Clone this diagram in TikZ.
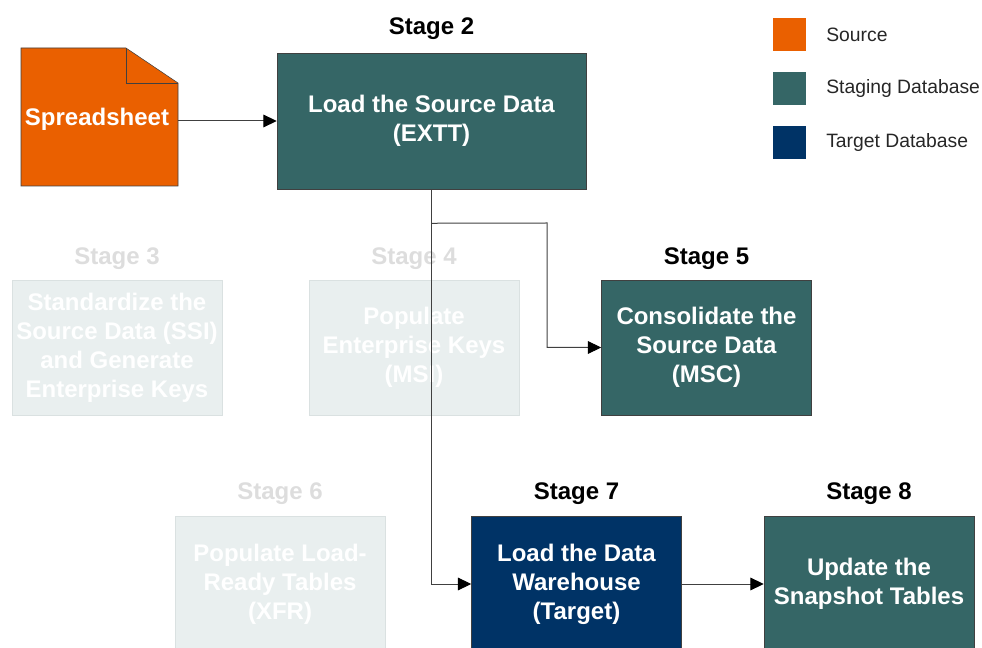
\documentclass[tikz,border=0pt]{standalone}
\usepackage{fontspec}
\setmainfont{Liberation Sans}
\usetikzlibrary{calc,arrows.meta}

\definecolor{srcorange}{HTML}{EA6000}
\definecolor{stageteal}{HTML}{356666}
\definecolor{targetnavy}{HTML}{003366}
\definecolor{fadefill}{HTML}{E9EFEF}
\definecolor{fadeline}{HTML}{DAE1E1}
\definecolor{fadetext}{HTML}{DDDDDD}

\tikzset{
  stagebox/.style={draw=black!75,rectangle,minimum width=157.5pt,minimum height=101.25pt,
    inner sep=1pt,align=center,text=white,font=\bfseries\fontsize{18}{21.75}\selectfont},
  stagelabel/.style={font=\bfseries\fontsize{18}{20}\selectfont},
  faded/.style={stagebox,fill=fadefill,draw=fadeline},
  fadedlabel/.style={stagelabel,text=fadetext},
  flow/.style={draw=black!75,line width=0.75pt,-{Triangle[length=10pt,width=9.5pt,color=black,fill=black]}},
  keybox/.style={rectangle,minimum size=24.75pt,inner sep=0pt},
  keytext/.style={anchor=west,inner sep=0pt,font=\fontsize{14.5}{16}\selectfont,text=black!85}
}

\begin{document}
\begin{tikzpicture}[x=0.75pt,y=-0.75pt]
\useasboundingbox (0,0) rectangle (982,648);
\clip (0,0) rectangle (982,648);

% source spreadsheet
\fill[srcorange,draw=black!75] (21,48) -- (126,48) -- (178,83) -- (178,186) -- (21,186) -- cycle;
\draw[black!75] (126,48) -- (126,83) -- (178,83);
\node[minimum width=118pt,minimum height=103.5pt] (sheet) at (99.5,117){};
\node[text=white,font=\bfseries\fontsize{18}{20}\selectfont] at (97,119){Spreadsheet};

% stages
\node[stagebox,fill=stageteal,minimum width=231.75pt,minimum height=102pt] (s2) at (431.5,121){Load the Source Data\\(EXTT)};
\node[stagelabel] at ($(s2.north)+(0,-24)$){Stage 2};

\node[faded] (s3) at (117,347.5){Standardize the\\Source Data (SSI)\\and Generate\\Enterprise Keys};
\node[fadedlabel] at ($(s3.north)+(0,-21)$){Stage 3};

\node[faded] (s4) at (414,347.5){Populate\\Enterprise Keys\\(MSI)};
\node[fadedlabel] at ($(s4.north)+(0,-21)$){Stage 4};

\node[stagebox,fill=stageteal] (s5) at (706.5,347.5){Consolidate the\\Source Data\\(MSC)};
\node[stagelabel] at ($(s5.north)+(0,-21)$){Stage 5};

\node[faded] (s6) at (280,584){Populate Load-\\Ready Tables\\(XFR)};
\node[fadedlabel] at ($(s6.north)+(0,-23)$){Stage 6};

\node[stagebox,fill=targetnavy] (s7) at (576.5,584){Load the Data\\Warehouse\\(Target)};
\node[stagelabel] at ($(s7.north)+(0,-23)$){Stage 7};

\node[stagebox,fill=stageteal] (s8) at (869,584){Update the\\Snapshot Tables};
\node[stagelabel] at ($(s8.north)+(0,-23)$){Stage 8};

% connectors
\coordinate (split) at ($(s2.south)+(0,34)$);
\coordinate (elbow) at (547,223);
\draw[flow] (s2.west -| sheet.east) -- (s2.west);
\draw[flow] (s2.south) |- (s7.west);
\draw[flow] (split) -- (elbow) |- (s5.west);
\draw[flow] (s7.east) -- (s8.west);

% legend
\node[keybox,fill=srcorange] (k1) at (789.5,35){};
\node[keytext] at (826,35){Source};
\node[keybox,fill=stageteal] (k2) at (789.5,89){};
\node[keytext] at (826,89){Staging Database};
\node[keybox,fill=targetnavy] (k3) at (789.5,143){};
\node[keytext] at (826,143){Target Database};
\end{tikzpicture}
\end{document}
